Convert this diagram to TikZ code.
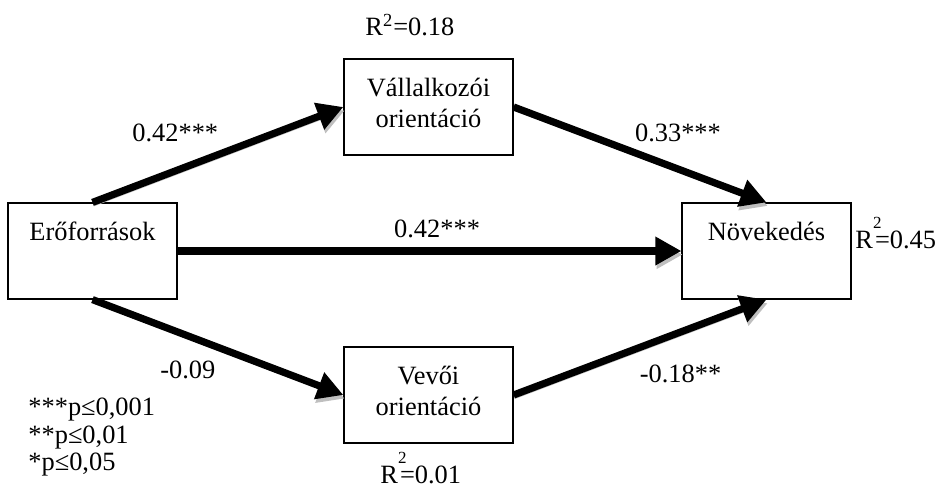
\documentclass[tikz,border=0pt]{standalone}
\usepackage{fontspec}
\setmainfont{Liberation Serif}
\usepackage{tikz}
\usetikzlibrary{arrows.meta}
\usetikzlibrary{positioning}
\tikzset{valtozo/.style={draw, line width=0.6pt, minimum width=84.5pt,
    minimum height=48pt, inner sep=0pt, align=center}}
\tikzset{pfeil/.style={draw, line width=3.6pt,
    -{Triangle[length=13pt,width=13.5pt]},
    preaction={draw=gray!50, transform canvas={shift={(0.6pt,-1.8pt)}}}}}
\newcommand{\Rnegyzet}[1]{R\rlap{\raisebox{10pt}{\fontsize{8.5}{8.5}\selectfont 2}}\kern1pt=#1}

\begin{document}
\begin{tikzpicture}[x=0.5pt, y=-0.5pt,
    font=\fontsize{13.2}{15.5}\selectfont,
    on grid]

  \useasboundingbox (0,0) rectangle (952,487);

  \node[valtozo]
    (Eroforrasok) at (92.5,251) {Erőforrások\\\strut};
  \node[valtozo]
    (Vallalkozoi) [above right=72pt and 168pt of Eroforrasok] {Vállalkozói\\orientáció\strut};
  \node[valtozo]
    (Vevoi) [below right=72pt and 168pt of Eroforrasok] {Vevői\\orientáció\strut};
  \node[valtozo]
    (Novekedes) [right=337pt of Eroforrasok] {Növekedés\\\strut};

  % R^2 values
  \node[anchor=base west, inner sep=0pt] (R2Vall) at (365,35) {R\textsuperscript{2}=0.18};
  \node[anchor=base west, inner sep=0pt] (R2Nov) at (855,248) {\Rnegyzet{0.45}};
  \node[anchor=base west, inner sep=0pt] (R2Vevo) at (380,483) {\Rnegyzet{0.01}};

  % significance levels
  \node[anchor=base west, inner sep=0pt] (Sig1) at (28,415) {***p≤0,001};
  \node[anchor=base west, inner sep=0pt] (Sig2) at (28,443) {**p≤0,01};
  \node[anchor=base west, inner sep=0pt] (Sig3) at (28,470) {*p≤0,05};

  \path
    (Eroforrasok.north) edge[pfeil] node[pos=.33, yshift=19pt] (B1) {0.42***} (Vallalkozoi.west)
    (Vallalkozoi.east)  edge[pfeil] node[pos=.65, yshift=18pt] (B2) {0.33***} (Novekedes.north)
    (Eroforrasok.east)  edge[pfeil] node[pos=.515, yshift=11pt] (B3) {0.42***} (Novekedes.west)
    (Eroforrasok.south) edge[pfeil] node[pos=.38, yshift=-17pt] (B4) {-0.09} (Vevoi.west)
    (Vevoi.east)        edge[pfeil] node[pos=.66, yshift=-21pt] (B5) {-0.18**} (Novekedes.south);

\end{tikzpicture}
\end{document}
